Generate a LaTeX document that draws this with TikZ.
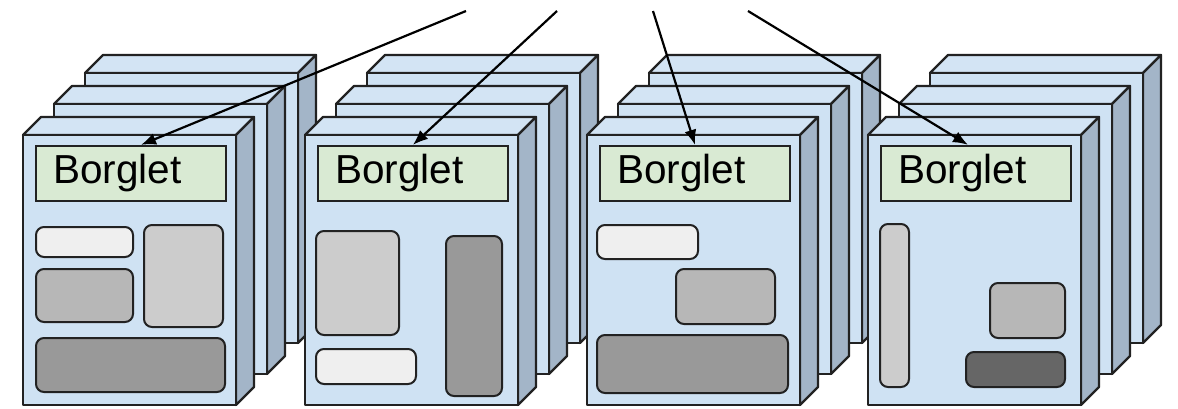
\documentclass[tikz,border=0pt]{standalone}
\usepackage{fontspec}
\setmainfont{Liberation Sans}
\usetikzlibrary{arrows.meta}

\definecolor{edge}{HTML}{222222}
\definecolor{facefill}{HTML}{CFE2F3}
\definecolor{topfill}{HTML}{D3E4F4}
\definecolor{sidefill}{HTML}{A3B5C8}
\definecolor{tagfill}{HTML}{D9EAD3}
\definecolor{whiteslot}{HTML}{EFEFEF}
\definecolor{lightslot}{HTML}{CCCCCC}
\definecolor{midslot}{HTML}{B7B7B7}
\definecolor{darkslot}{HTML}{999999}
\definecolor{deepslot}{HTML}{666666}

\tikzset{
  boxline/.style={draw=edge, line width=2.3pt, line join=round},
  cuboid/.pic={
    \path[boxline, fill=topfill] (0,0) -- (18,-18) -- (231,-18) -- (213,0) -- cycle;
    \path[boxline, fill=sidefill] (213,0) -- (231,-18) -- (231,252) -- (213,270) -- cycle;
    \path[boxline, fill=facefill] (0,0) rectangle (213,270);
  },
  tag/.style={draw=edge, line width=2.3pt, fill=tagfill, minimum width=190pt, minimum height=55pt,
    text width=156pt, inner xsep=17pt, align=left, font=\fontsize{40.5}{42}\selectfont},
  slot/.style={draw=edge, line width=2pt, rounded corners=8pt, inner sep=0pt},
  feed/.style={-{Latex[length=15pt,width=12pt]}, line width=2.2pt}
}

\begin{document}
\begin{tikzpicture}[x=1pt, y=-1pt]
\useasboundingbox (0,0) rectangle (1178,408);

% machines, back to front
\foreach \sx in {23,305,587,868} {
  \pic at (\sx+62,73) {cuboid};
  \pic at (\sx+31,104) {cuboid};
  \pic at (\sx,135) {cuboid};
}

\node[tag] (b1) at (131,173.5) {Borglet};
\node[tag] (b2) at (413,173.5) {Borglet};
\node[tag] (b3) at (695,173.5) {Borglet};
\node[tag] (b4) at (976,173.5) {Borglet};

% tasks on machine 1
\node[slot, fill=whiteslot, minimum width=97pt, minimum height=30pt] (s1a) at (84.5,242) {};
\node[slot, fill=midslot, minimum width=97pt, minimum height=53pt] (s1b) at (84.5,295.5) {};
\node[slot, fill=lightslot, minimum width=79pt, minimum height=102pt] (s1c) at (183.5,276) {};
\node[slot, fill=darkslot, minimum width=189pt, minimum height=54pt] (s1d) at (130.5,365) {};

% tasks on machine 2
\node[slot, fill=lightslot, minimum width=83pt, minimum height=104pt] (s2a) at (357.5,283) {};
\node[slot, fill=darkslot, minimum width=56pt, minimum height=160pt] (s2b) at (474,316) {};
\node[slot, fill=whiteslot, minimum width=100pt, minimum height=35pt] (s2c) at (366,366.5) {};

% tasks on machine 3
\node[slot, fill=whiteslot, minimum width=101pt, minimum height=34pt] (s3a) at (647.5,242) {};
\node[slot, fill=midslot, minimum width=99pt, minimum height=55pt] (s3b) at (725.5,296.5) {};
\node[slot, fill=darkslot, minimum width=191pt, minimum height=58pt] (s3c) at (692.5,364) {};

% tasks on machine 4
\node[slot, fill=lightslot, minimum width=29pt, minimum height=163pt] (s4a) at (894.5,305.5) {};
\node[slot, fill=midslot, minimum width=75pt, minimum height=55pt] (s4b) at (1027.5,310.5) {};
\node[slot, fill=deepslot, minimum width=99pt, minimum height=35pt] (s4c) at (1015.5,369.5) {};

\coordinate (t1) at (466,11);
\coordinate (t2) at (557,11);
\coordinate (t3) at (653,11);
\coordinate (t4) at (748,11);

\draw[feed] (t1) -- ([xshift=10pt]b1.north);
\draw[feed] (t2) -- (b2.north);
\draw[feed] (t3) -- (b3.north);
\draw[feed] (t4) -- ([xshift=-8pt]b4.north);
\end{tikzpicture}
\end{document}
